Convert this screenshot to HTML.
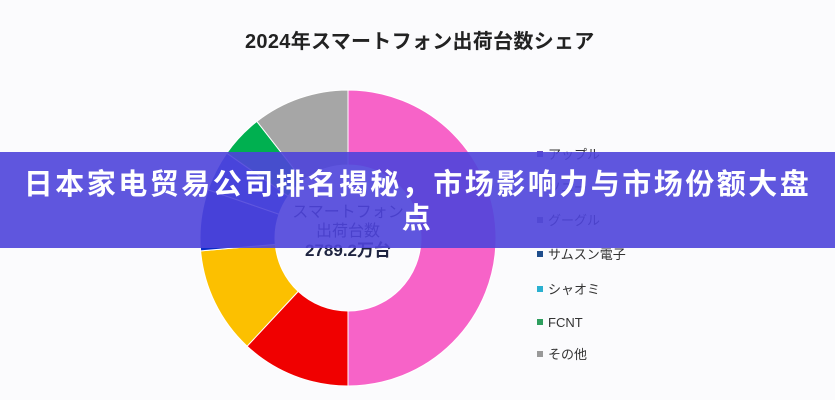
<!DOCTYPE html>
<html><head><meta charset="utf-8"><style>
html,body{margin:0;padding:0;background:#fbfbfd;}
body{width:835px;height:400px;position:relative;overflow:hidden;font-family:"Liberation Sans","Noto Sans CJK JP",sans-serif;}
.title{position:absolute;left:0;width:835px;top:25px;font-size:20px;font-weight:bold;color:#222;}
.title span{position:absolute;left:245px;white-space:nowrap;letter-spacing:0.3px;}
.lg{position:absolute;left:537px;font-size:13px;color:#333;white-space:nowrap;line-height:14px;}
.lg i{display:inline-block;width:6px;height:6px;margin-right:5px;vertical-align:2px;}
.banner{position:absolute;left:0;top:152px;width:835px;height:96px;background:rgba(78,68,218,0.9);}
.bt{position:absolute;left:0;width:835px;text-align:center;color:#fff;font-weight:bold;font-size:29px;letter-spacing:2.5px;font-family:"Liberation Sans","Noto Sans CJK SC",sans-serif;line-height:34px;top:168px;}
.ct{position:absolute;left:248px;width:200px;text-align:center;font-size:16px;color:#1e2440;line-height:19px;top:203px;}
.ct b{font-size:17px;}
</style></head><body>
<div class="title"><span>2024年スマートフォン出荷台数シェア</span></div>
<svg width="835" height="400" style="position:absolute;left:0;top:0">
<g stroke="#fff" stroke-width="1">
<path d="M348,90 A148,148 0 0 1 348,386 L348,311 A73,73 0 0 0 348,165 Z" fill="#f763c8"/>
<path d="M348,386 A148,148 0 0 1 247.1,346.2 L298.2,291.4 A73,73 0 0 0 348,311 Z" fill="#f00000"/>
<path d="M247.1,346.2 A148,148 0 0 1 200.6,250.9 L275.3,244.4 A73,73 0 0 0 298.2,291.4 Z" fill="#fcc000"/>
<path d="M200.6,250.9 A148,148 0 0 1 208.1,189.8 L279,214.2 A73,73 0 0 0 275.3,244.4 Z" fill="#0a2cc8"/>
<path d="M208.1,189.8 A148,148 0 0 1 226.8,153.1 L288.2,196.1 A73,73 0 0 0 279,214.2 Z" fill="#1448e0"/>
<path d="M226.8,153.1 A148,148 0 0 1 256.9,121.4 L303.1,180.5 A73,73 0 0 0 288.2,196.1 Z" fill="#00b050"/>
<path d="M256.9,121.4 A148,148 0 0 1 348,90 L348,165 A73,73 0 0 0 303.1,180.5 Z" fill="#a6a6a6"/>
</g>
</svg>
<div class="ct">スマートフォン<br>出荷台数<br><b>2789.2万台</b></div>
<div class="lg" style="top:148px"><i style="background:#6a4fc0"></i>アップル</div>
<div class="lg" style="top:181px"><i style="background:#7a6acc"></i>ソニー</div>
<div class="lg" style="top:214px"><i style="background:#7a7a9a"></i>グーグル</div>
<div class="lg" style="top:248px"><i style="background:#1f4e8c"></i>サムスン電子</div>
<div class="lg" style="top:283px"><i style="background:#2ab0d0"></i>シャオミ</div>
<div class="lg" style="top:316px"><i style="background:#2e9e5e"></i>FCNT</div>
<div class="lg" style="top:348px"><i style="background:#999"></i>その他</div>
<div class="banner"></div>
<div class="bt">日本家电贸易公司排名揭秘，市场影响力与市场份额大盘<br>点</div>
</body></html>
